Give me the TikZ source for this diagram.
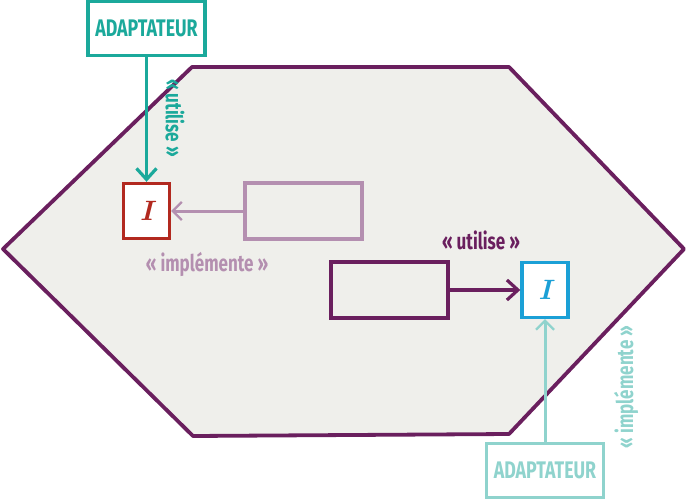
\documentclass[tikz,border=0pt]{standalone}
\usepackage{fontspec}
\setmainfont{Fira Sans}
\newfontfamily\narrowfont[FakeStretch=0.74]{Fira Sans}
\newfontfamily\letterfont{Latin Modern Roman}
\usepackage{tikz}
\usetikzlibrary{arrows.meta,positioning}

\definecolor{hexfill}{HTML}{EFEFEB}
\definecolor{plum}{HTML}{6A1F5E}
\definecolor{lilac}{HTML}{B48FB0}
\definecolor{brick}{HTML}{B2291F}
\definecolor{sky}{HTML}{1BA0D6}
\definecolor{teal}{HTML}{1BA99B}
\definecolor{paleteal}{HTML}{8FD3CD}

\begin{document}
\begin{tikzpicture}[x=1pt,y=-1pt]
			\tikzstyle{Box}		= [rectangle, line width=3.4pt, fill=white, inner sep=0pt]
			\tikzstyle{Iface}	= [Box, minimum width=46pt, minimum height=55pt, font=\letterfont\fontsize{28}{28}\selectfont\bfseries\itshape]
			\tikzstyle{Comp}	= [Box, minimum width=117pt, minimum height=56pt, fill=none]
			\tikzstyle{Adapter}	= [Box, minimum width=117pt, minimum height=54pt, font=\narrowfont\fontsize{24}{24}\selectfont\bfseries]
			\tikzstyle{Label}	= [inner sep=1pt, font=\narrowfont\fontsize{23}{23}\selectfont\bfseries]
			\tikzstyle{Uses}	= [line width=3.4pt, -{Straight Barb[length=11pt,width=20pt,line width=3.2pt]}]
			\tikzstyle{Impl}	= [line width=3pt, -{Straight Barb[length=9pt,width=18pt,line width=2.2pt]}]

			\useasboundingbox (0,0) rectangle (687,500);

			% hexagon
			\draw [plum, line width=3.8pt, fill=hexfill, line join=round]
				(192,67) -- (509,67) -- (684,249) -- (509,434) -- (193,436) -- (3,249) -- cycle;

			\node (adTop) at (146.5,28.5) [Adapter, draw=teal, text=teal] {ADAPTATEUR};
			\node (ifA) at (146.5,211) [Iface, draw=brick, text=brick] {I};
			\node (cmpA) at (303.5,211) [Comp, draw=lilac] {};
			\node (cmpB) at (389.5,290) [Comp, draw=plum] {};
			\node (ifB) at (545,290) [Iface, draw=sky, text=sky] {I};
			\node (adBot) at (545,470.5) [Adapter, draw=paleteal, text=paleteal] {ADAPTATEUR};

			\node (useA) at (175,118) [Label, teal, rotate=-90] {«~utilise~»};
			\node (implA) at (207,264) [Label, lilac] {«~implémente~»};
			\node (useB) at (481,240) [Label, plum] {«~utilise~»};
			\node (implB) at (626,387) [Label, paleteal, rotate=90] {«~implémente~»};

			\draw (adTop) to (ifA) [Uses, teal];
			\draw (cmpA) to (ifA) [Impl, lilac];
			\draw (cmpB) to (ifB) [Uses, plum];
			\draw (adBot) to (ifB) [Impl, paleteal];

		\end{tikzpicture}
\end{document}
